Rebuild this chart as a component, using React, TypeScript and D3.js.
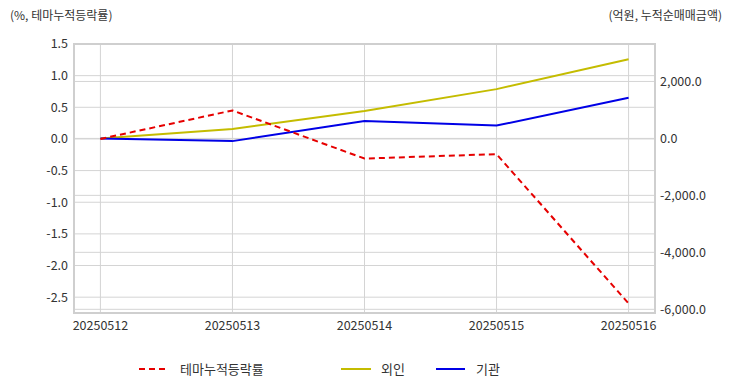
import React from "react";
import * as d3 from "d3";

const width = 732;
const height = 392;
const margin = { top: 44, right: 77, bottom: 79, left: 74 };

const dates = ["20250512", "20250513", "20250514", "20250515", "20250516"];
const themeRate = [0.0, 0.45, -0.31, -0.24, -2.6];
const foreign = [0, 330, 960, 1730, 2780];
const institution = [0, -95, 610, 450, 1430];

const leftTicks = [1.5, 1.0, 0.5, 0.0, -0.5, -1.0, -1.5, -2.0, -2.5];
const rightTicks = [2000, 0, -2000, -4000, -6000];

const font = "'Noto Sans CJK KR', 'Noto Sans', sans-serif";

export default function App() {
  const innerW = width - margin.left - margin.right;
  const innerH = height - margin.top - margin.bottom;

  const x = d3.scalePoint<string>().domain(dates).range([0, innerW]).padding(0.2);
  const yL = d3.scaleLinear().domain([-2.75, 1.5]).range([innerH, 0]);
  const yR = d3.scaleLinear().domain([-6130, 3315]).range([innerH, 0]);

  const lineL = d3
    .line<number>()
    .x((_, i) => x(dates[i])!)
    .y((d) => yL(d));
  const lineR = d3
    .line<number>()
    .x((_, i) => x(dates[i])!)
    .y((d) => yR(d));

  // plain hyphen instead of d3's unicode minus
  const fmtR = (v: number) => d3.format(",.1f")(v).replace("\u2212", "-");

  return (
    <svg width={width} height={height} style={{ position: "absolute", left: 0, top: 0, fontFamily: font }}>
      <text x={10} y={20} fontSize={12} fill="#333">(%, 테마누적등락률)</text>
      <text x={722} y={20} fontSize={12} fill="#333" textAnchor="end">(억원, 누적순매매금액)</text>

      <g transform={`translate(${margin.left},${margin.top})`}>
        {/* grid */}
        {leftTicks.map((t) => (
          <line key={`gl${t}`} x1={0} x2={innerW} y1={yL(t)} y2={yL(t)} stroke="#d4d4d4" />
        ))}
        {rightTicks.map((t) => (
          <line key={`gr${t}`} x1={0} x2={innerW} y1={yR(t)} y2={yR(t)} stroke="#d4d4d4" />
        ))}
        {dates.map((d) => (
          <line key={`gx${d}`} x1={x(d)} x2={x(d)} y1={0} y2={innerH} stroke="#d4d4d4" />
        ))}
        <rect x={0} y={0} width={innerW} height={innerH} fill="none" stroke="#cfcfcf" strokeWidth={2} />

        {/* left ticks */}
        {leftTicks.map((t) => (
          <text key={`tl${t}`} x={-6} y={yL(t)} dy="0.35em" textAnchor="end" fontSize={12.5} fill="#333">
            {t.toFixed(1)}
          </text>
        ))}
        {/* right ticks */}
        {rightTicks.map((t) => (
          <text key={`tr${t}`} x={innerW + 5} y={yR(t)} dy="0.35em" fontSize={12.5} fill="#333">
            {fmtR(t)}
          </text>
        ))}
        {/* x ticks */}
        {dates.map((d) => (
          <text key={`tx${d}`} x={x(d)} y={innerH + 17} textAnchor="middle" fontSize={12.5} fill="#333">
            {d}
          </text>
        ))}

        <path d={lineR(foreign)!} fill="none" stroke="#c4bc00" strokeWidth={2} />
        <path d={lineR(institution)!} fill="none" stroke="#0000e6" strokeWidth={2} />
        <path d={lineL(themeRate)!} fill="none" stroke="#e60000" strokeWidth={2} strokeDasharray="6,4" />
      </g>

      {/* legend */}
      <g fontSize={13} fill="#333">
        <line x1={139} x2={167} y1={369} y2={369} stroke="#e60000" strokeWidth={2} strokeDasharray="6,4" />
        <text x={180} y={369} dy="0.35em">테마누적등락률</text>
        <line x1={341} x2={371} y1={369} y2={369} stroke="#c4bc00" strokeWidth={2} />
        <text x={381} y={369} dy="0.35em">외인</text>
        <line x1={436} x2={465} y1={369} y2={369} stroke="#0000e6" strokeWidth={2} />
        <text x={476} y={369} dy="0.35em">기관</text>
      </g>
    </svg>
  );
}
